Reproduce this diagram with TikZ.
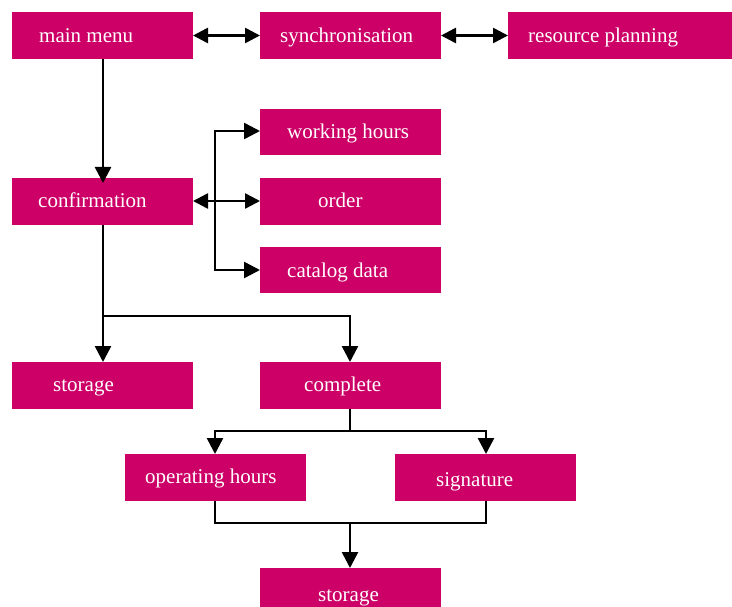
\documentclass[tikz,border=0pt]{standalone}
\usepackage{fontspec}
\setmainfont{Liberation Serif}
\usetikzlibrary{arrows.meta}
\definecolor{boxmag}{RGB}{204,0,102}
\tikzset{
  box/.style={fill=boxmag, draw=none, inner sep=0pt},
  txt/.style={text=white, inner sep=0pt, anchor=base west, font=\fontsize{21}{25}\selectfont},
  conn/.style={draw=black, line width=2.5pt},
  arr/.style={conn, -{Triangle[length=16pt,width=16pt]}},
  darr/.style={conn, {Triangle[length=15pt,width=15pt]}-{Triangle[length=15pt,width=15pt]}},
}
\begin{document}
\begin{tikzpicture}[x=1pt,y=-1pt]
\useasboundingbox (0,0) rectangle (732,607);
% boxes
\path[box] (12,12) rectangle (193,59) node[pos=0.5,inner sep=0] (mm) {};
\path[box] (260,12) rectangle (441,59) node[pos=0.5,inner sep=0] (sy) {};
\path[box] (508,12) rectangle (732,59) node[pos=0.5,inner sep=0] (rp) {};
\path[box] (260,109) rectangle (441,155) node[pos=0.5,inner sep=0] (wh) {};
\path[box] (12,178) rectangle (193,225) node[pos=0.5,inner sep=0] (cf) {};
\path[box] (260,178) rectangle (441,225) node[pos=0.5,inner sep=0] (od) {};
\path[box] (260,247) rectangle (441,293) node[pos=0.5,inner sep=0] (cd) {};
\path[box] (12,362) rectangle (193,409) node[pos=0.5,inner sep=0] (st) {};
\path[box] (260,362) rectangle (441,409) node[pos=0.5,inner sep=0] (cp) {};
\path[box] (125,454) rectangle (306,501) node[pos=0.5,inner sep=0] (oh) {};
\path[box] (395,454) rectangle (576,501) node[pos=0.5,inner sep=0] (sg) {};
\path[box] (260,568) rectangle (441,607) node[pos=0.5,inner sep=0] (sb) {};
% texts
\node[txt] (mmt) at (39,42.5) {main menu};
\node[txt] (syt) at (280,42.5) {synchronisation};
\node[txt] (rpt) at (528,42.5) {resource planning};
\node[txt] (wht) at (287,138.5) {working hours};
\node[txt] (cft) at (38,207.5) {confirmation};
\node[txt] (odt) at (318,207.5) {order};
\node[txt] (cdt) at (287,277.5) {catalog data};
\node[txt] (stt) at (53,391) {storage};
\node[txt] (cpt) at (304,391) {complete};
\node[txt] (oht) at (145,483.5) {operating hours};
\node[txt] (sgt) at (436,486.5) {signature};
\node[txt] (sbt) at (318,601) {storage};
% coordinates
\coordinate (mmR) at (193,35.5);
\coordinate (syL) at (260,35.5);
\coordinate (syR) at (441,35.5);
\coordinate (rpL) at (508,35.5);
\coordinate (mmB) at (103,59);
\coordinate (cfT) at (103,183);
\coordinate (cfR) at (193,201);
\coordinate (odL) at (260,201);
\coordinate (trT) at (215,131);
\coordinate (whL) at (260,131);
\coordinate (trB) at (215,270);
\coordinate (cdL) at (260,270);
\coordinate (cfB) at (103,225);
\coordinate (stT) at (103,362);
\coordinate (br1) at (103,316);
\coordinate (cpT) at (350,362);
\coordinate (cpB) at (350,409);
\coordinate (br2) at (350,431);
\coordinate (ohT) at (215,454);
\coordinate (sgT) at (486,454);
\coordinate (ohB) at (215,501);
\coordinate (sgB) at (486,501);
\coordinate (jn) at (350,523);
\coordinate (sbT) at (350,568);
% connectors
\draw[darr] (mmR) -- (syL);
\draw[darr] (syR) -- (rpL);
\draw[arr] (mmB) -- (cfT);
\draw[darr] (cfR) -- (odL);
\draw[arr] (trB) -- (trT) -- (whL);
\draw[arr] (trT) -- (trB) -- (cdL);
\draw[arr] (cfB) -- (stT);
\draw[arr] (br1) -| (cpT);
\draw[conn] (cpB) -- (br2);
\draw[arr] (br2) -| (ohT);
\draw[arr] (br2) -| (sgT);
\draw[conn] (ohB) |- (jn) -| (sgB);
\draw[arr] (jn) -- (sbT);
\end{tikzpicture}
\end{document}
